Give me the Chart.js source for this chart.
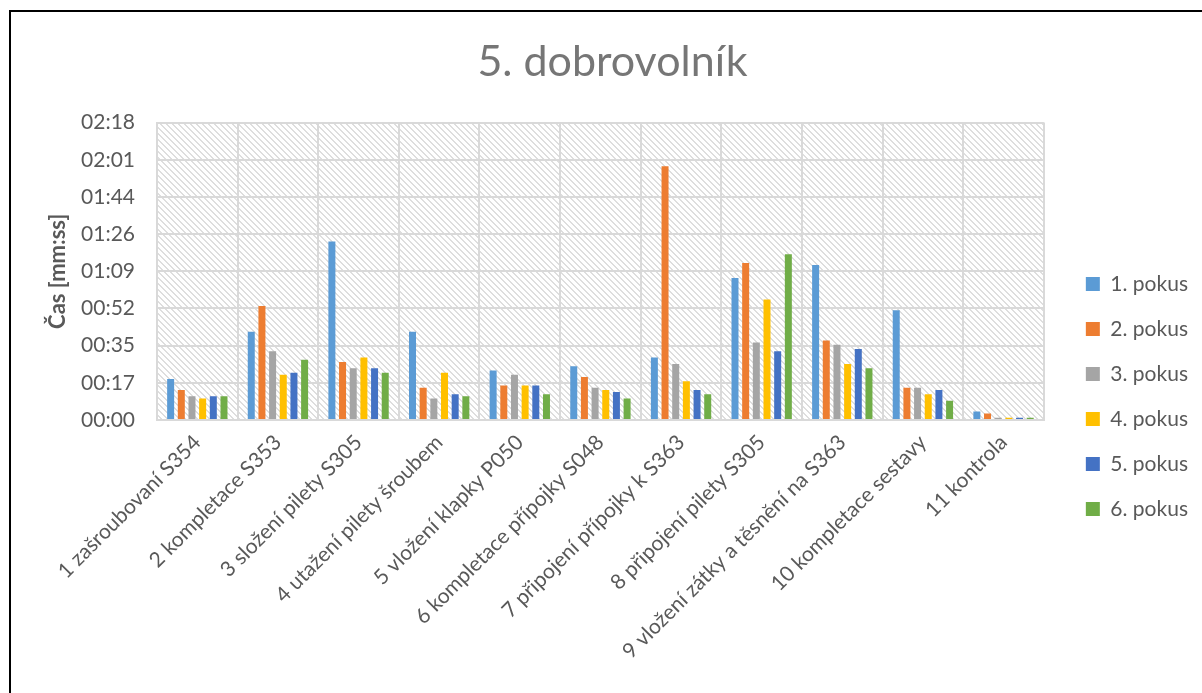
<!DOCTYPE html>
<html lang="cs">
<head>
<meta charset="utf-8">
<title>5. dobrovolník</title>
<script src="https://cdn.jsdelivr.net/npm/chart.js@4.4.1/dist/chart.umd.min.js"></script>
<style>
  html, body { margin: 0; padding: 0; background: #ffffff; overflow: hidden; }
  #wrap { position: absolute; left: 0; top: 0; width: 1202px; height: 793px; }
</style>
</head>
<body>
<div id="wrap"><canvas id="chart" width="1202" height="793"></canvas></div>
<script>
// Pracovní kroky montáže
const categories = [
  '1 zašroubovaní S354',
  '2 kompletace S353',
  '3 složení pilety S305',
  '4 utažení pilety šroubem',
  '5 vložení klapky P050',
  '6 kompletace přípojky S048',
  '7 připojení přípojky k S363',
  '8 připojení pilety S305',
  '9 vložení zátky a těsnění na S363',
  '10 kompletace sestavy',
  '11 kontrola'
];

// Časy jednotlivých pokusů v sekundách
const pokus1 = [19, 41, 83, 41, 23, 25, 29, 66, 72, 51, 4];
const pokus2 = [14, 53, 27, 15, 16, 20, 118, 73, 37, 15, 3];
const pokus3 = [11, 32, 24, 10, 21, 15, 26, 36, 35, 15, 1];
const pokus4 = [10, 21, 29, 22, 16, 14, 18, 56, 26, 12, 1];
const pokus5 = [11, 22, 24, 12, 16, 13, 14, 32, 33, 14, 1];
const pokus6 = [11, 28, 22, 11, 12, 10, 12, 77, 24, 9, 1];

const seriesNames = ['1. pokus', '2. pokus', '3. pokus', '4. pokus', '5. pokus', '6. pokus'];
const seriesColors = ['#5B9BD5', '#ED7D31', '#A5A5A5', '#FFC000', '#4472C4', '#70AD47'];

// Osa Y: krok 17,28 s, popisky ve formátu mm:ss
const tickSeconds = [0, 17.28, 34.56, 51.84, 69.12, 86.4, 103.68, 120.96, 138.24];
const tickLabels = ['00:00', '00:17', '00:35', '00:52', '01:09', '01:26', '01:44', '02:01', '02:18'];

const FONT = 'Lato, "Open Sans", "DejaVu Sans", sans-serif';
const TEXT = '#595959';
const GRID = '#d9d9d9';

// Šrafované pozadí plochy grafu
function makeHatch() {
  const n = 6;
  const c = document.createElement('canvas');
  c.width = n; c.height = n;
  const g = c.getContext('2d');
  const img = g.createImageData(n, n);
  for (let y = 0; y < n; y++) {
    for (let x = 0; x < n; x++) {
      const k = (((x - y) % n) + n) % n;
      const v = k < 2 ? 222 : 255;
      const i = (y * n + x) * 4;
      img.data[i] = v; img.data[i + 1] = v; img.data[i + 2] = v; img.data[i + 3] = 255;
    }
  }
  g.putImageData(img, 0, 0);
  return c;
}
const hatchTile = makeHatch();

const plotBackground = {
  id: 'plotBackground',
  beforeDraw(chart) {
    const { ctx, chartArea: a } = chart;
    ctx.save();
    ctx.fillStyle = ctx.createPattern(hatchTile, 'repeat');
    ctx.fillRect(a.left, a.top, a.right - a.left, a.bottom - a.top);
    ctx.restore();
  }
};

// Legenda odsazená o kus dál od plochy grafu
const legendShift = {
  id: 'legendShift',
  afterLayout(chart) {
    const lg = chart.legend;
    if (lg) { lg.left += 18; lg.right += 18; }
  }
};

const outerFrame = {
  id: 'outerFrame',
  afterDraw(chart) {
    const ctx = chart.ctx;
    ctx.save();
    ctx.fillStyle = '#000000';
    ctx.fillRect(9, 10, 2, chart.height);
    ctx.fillRect(9, 10, chart.width, 2);
    ctx.restore();
  }
};

const datasetsList = [pokus1, pokus2, pokus3, pokus4, pokus5, pokus6].map((vals, i) => ({
  label: seriesNames[i],
  data: vals,
  backgroundColor: seriesColors[i],
  borderWidth: 0,
  categoryPercentage: 0.794,
  barPercentage: 0.656
}));

new Chart(document.getElementById('chart'), {
  type: 'bar',
  data: { labels: categories, datasets: datasetsList },
  plugins: [plotBackground, legendShift, outerFrame],
  options: {
    responsive: false,
    animation: false,
    events: [],
    layout: { padding: { left: 45, right: 22, top: 0, bottom: 0 } },
    plugins: {
      title: {
        display: true,
        text: '5. dobrovolník',
        color: '#767676',
        font: { family: FONT, size: 43, weight: 'normal' },
        padding: { top: 36, bottom: 35 }
      },
      legend: {
        position: 'right',
        labels: {
          color: TEXT,
          font: { family: FONT, size: 21 },
          boxWidth: 14,
          boxHeight: 14,
          padding: 24
        }
      },
      tooltip: { enabled: false }
    },
    scales: {
      x: {
        grid: { color: GRID, lineWidth: 2, offset: true, drawTicks: false },
        border: { color: GRID, width: 2 },
        ticks: {
          color: TEXT,
          font: { family: FONT, size: 21 },
          minRotation: 45,
          maxRotation: 45,
          autoSkip: false,
          padding: 10
        },
        afterFit(scale) { scale.height = 373; }
      },
      y: {
        min: 0,
        max: 138.24,
        grid: { color: GRID, lineWidth: 2, drawTicks: false },
        border: { color: GRID, width: 2 },
        ticks: {
          color: TEXT,
          font: { family: FONT, size: 21 },
          padding: 22,
          callback(value, index) { return tickLabels[index]; }
        },
        afterBuildTicks(scale) { scale.ticks = tickSeconds.map(v => ({ value: v })); },
        title: {
          display: true,
          text: 'Čas [mm:ss]',
          color: TEXT,
          font: { family: FONT, size: 22, weight: 'bold' },
          padding: { top: 0, bottom: 0 }
        },
        afterFit(scale) { scale.width = 112; }
      }
    }
  }
});
</script>
</body>
</html>
